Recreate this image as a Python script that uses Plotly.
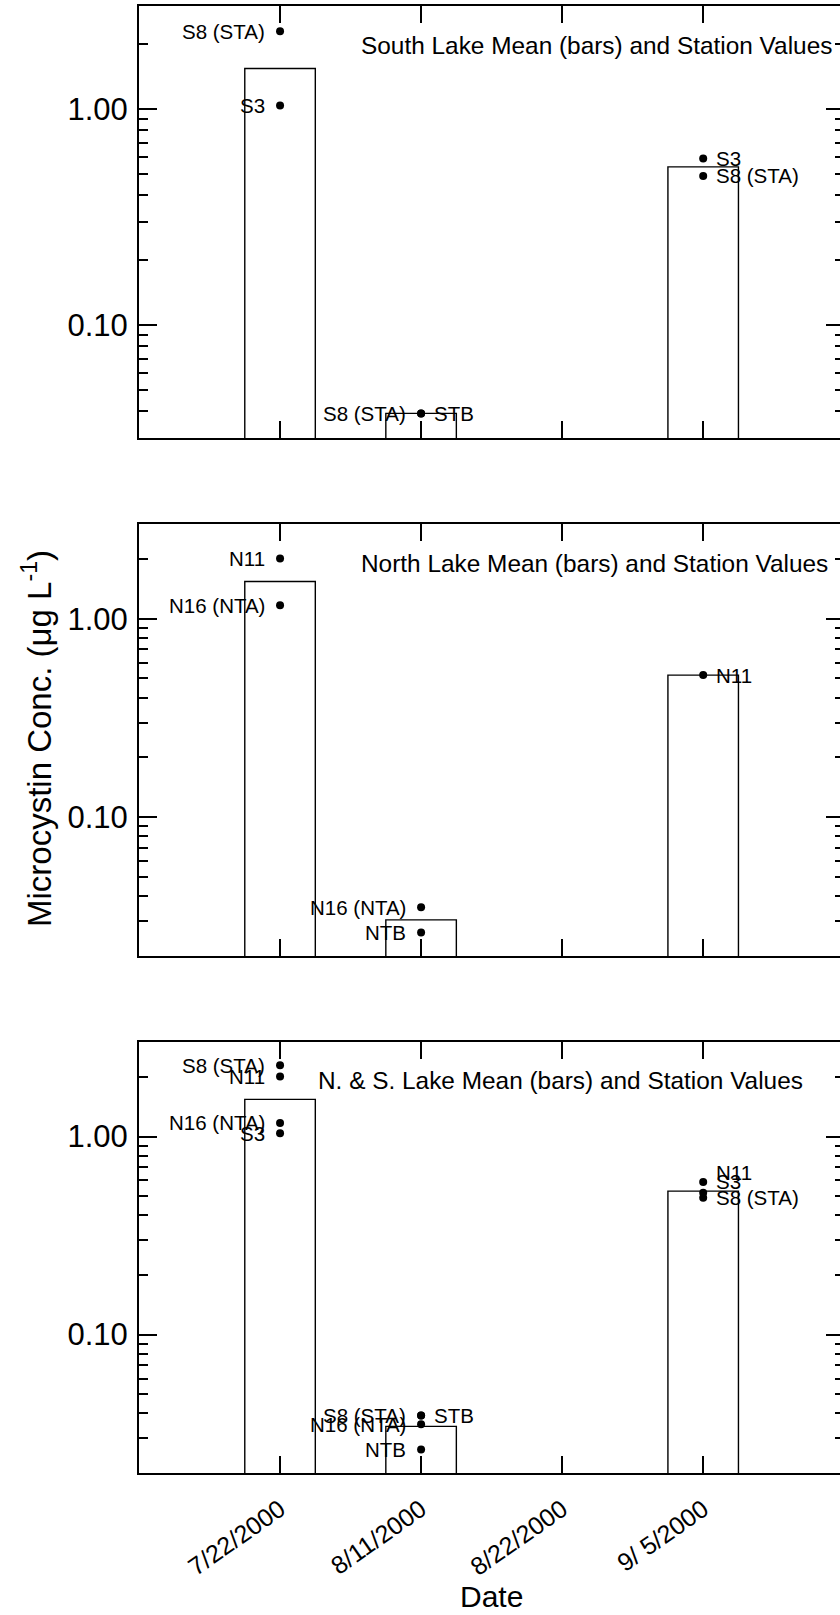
import numpy as np
import plotly.graph_objects as go

# sampling dates (8/22 has no samples)
dates = ["7/22/2000", "8/11/2000", "8/22/2000", "9/ 5/2000"]

# station values, ug/L (None = not sampled)
s3 = [1.04, None, None, 0.59]
s8_sta = [2.29, 0.039, None, 0.49]
stb = [None, 0.039, None, None]
n11 = [2.01, None, None, 0.52]
n16_nta = [1.17, 0.0352, None, None]
ntb = [None, 0.0263, None, None]

# lake means (bars)
south_mean = [1.54, 0.039, None, 0.54]
north_mean = [1.54, 0.0304, None, 0.52]
all_mean = [1.54, 0.0344, None, 0.53]

titles = ["South Lake Mean (bars) and Station Values",
          "North Lake Mean (bars) and Station Values",
          "N. & S. Lake Mean (bars) and Station Values"]

# which stations go in which panel, and which side their labels sit on
# (l = left, r = right, u = right and raised)
panels = [
    (south_mean, [("S8 (STA)", s8_sta, "ll-r"),
                  ("S3", s3, "l--r"),
                  ("STB", stb, "-r--")]),
    (north_mean, [("N11", n11, "l--r"),
                  ("N16 (NTA)", n16_nta, "ll--"),
                  ("NTB", ntb, "-l--")]),
    (all_mean, [("S8 (STA)", s8_sta, "ll-r"),
                ("N11", n11, "l--u"),
                ("N16 (NTA)", n16_nta, "ll--"),
                ("S3", s3, "l--r"),
                ("STB", stb, "-r--"),
                ("NTB", ntb, "-l--")]),
]

W, H = 840, 1615
L, R, T, B = 139, 0, 6, 142
ph = H - T - B
pw = W - L - R
def py(p):  # pixel y -> paper y
    return (H - B - p) / ph
def px(p):
    return (p - L) / pw

domains = [[py(438), py(6)], [py(956), py(524)], [py(1473), py(1042)]]
ymins = [0.03, 0.02, 0.02]
font = "Liberation Sans, Arial, sans-serif"

fig = go.Figure()
for i, (mean, stations) in enumerate(panels):
    xa = "x" if i == 0 else f"x{i+1}"
    ya = "y" if i == 0 else f"y{i+1}"
    fig.add_trace(go.Bar(x=dates, y=mean, width=0.5, xaxis=xa, yaxis=ya,
                         marker=dict(color="white", line=dict(color="black", width=1.4)),
                         showlegend=False, hoverinfo="skip"))
    # invisible copy on the right-hand axis so its ticks get drawn
    fig.add_trace(go.Scatter(x=dates, y=mean, xaxis=xa, yaxis=f"y{i+4}", mode="markers",
                             marker=dict(opacity=0), showlegend=False, hoverinfo="skip"))
    for name, vals, sides in stations:
        xs = [d for d, v in zip(dates, vals) if v is not None]
        ys = [v for v in vals if v is not None]
        fig.add_trace(go.Scatter(x=xs, y=ys, mode="markers", xaxis=xa, yaxis=ya,
                                 marker=dict(color="black", size=8),
                                 showlegend=False, cliponaxis=False))
        for d, v, s in zip(dates, vals, sides):
            if v is None:
                continue
            fig.add_annotation(text=name, x=d, y=np.log10(v), xref=xa, yref=ya,
                               xanchor="right" if s == "l" else "left", yanchor="middle",
                               xshift=-13 if s == "l" else 11, yshift=20 if s == "u" else 0,
                               showarrow=False,
                               font=dict(family=font, size=20.5, color="black"))

minor_vals = [k * 10.0 ** e for e in (-2, -1, 0) for k in range(2, 10)]
for i in range(3):
    sx = "" if i == 0 else str(i + 1)
    yrange = [np.log10(ymins[i]), np.log10(3)]
    fig.layout["xaxis" + sx] = dict(
        domain=[0, 1], anchor="y" + sx, type="category", categoryarray=dates,
        range=[-1, 3.97], showline=True, linecolor="black", linewidth=2, mirror="ticks",
        ticks="inside", ticklen=17, tickwidth=2, tickcolor="black",
        showgrid=False, zeroline=False, showticklabels=(i == 2), tickangle=-35,
        ticklabelstandoff=10, tickfont=dict(family=font, size=25, color="black"))
    ytick = dict(type="log", range=yrange, autorange=False, tickvals=[0.1, 1.0],
                 ticks="inside", tickwidth=2, tickcolor="black",
                 showgrid=False, zeroline=False)
    fig.layout["yaxis" + sx] = dict(
        ytick, domain=domains[i], anchor="x" + sx, ticktext=["0.10", "1.00"], ticklen=18,
        minor=dict(tickvals=minor_vals, ticks="inside", ticklen=9, tickwidth=2,
                   tickcolor="black"),
        showline=True, linecolor="black", linewidth=2, mirror=False,
        ticklabelstandoff=3, tickfont=dict(family=font, size=31, color="black"))
    # right-hand tick marks (major and minor); the right frame line sits just off the page
    fig.layout["yaxis" + str(i + 4)] = dict(
        ytick, overlaying="y" + sx, anchor="x" + sx, side="right", ticklen=14,
        minor=dict(tickvals=minor_vals, ticks="inside", ticklen=5, tickwidth=2,
                   tickcolor="black"),
        showline=False, showticklabels=False)

title_pos = [(359, 45), (359, 563), (316, 1080)]
for t, (tx, ty) in zip(titles, title_pos):
    fig.add_annotation(text=t, xref="paper", yref="paper", x=px(tx), y=py(ty),
                       xanchor="left", yanchor="middle", showarrow=False,
                       font=dict(family=font, size=24.4, color="black"))

fig.add_annotation(text="Microcystin Conc. (μg L<sup>-1</sup>)", xref="paper", yref="paper",
                   x=px(37), y=py(739), textangle=-90, xanchor="center", yanchor="middle",
                   showarrow=False, font=dict(family=font, size=33, color="black"))
fig.add_annotation(text="Date", xref="paper", yref="paper", x=px(491), y=py(1597),
                   xanchor="center", yanchor="middle", showarrow=False,
                   font=dict(family=font, size=30, color="black"))

fig.update_layout(width=W, height=H, margin=dict(l=L, r=R, t=T, b=B),
                  plot_bgcolor="white", paper_bgcolor="white", bargap=0.5)
fig.write_html("out.html", config={"displayModeBar": False},
               post_script="document.body.style.margin = '0';")
